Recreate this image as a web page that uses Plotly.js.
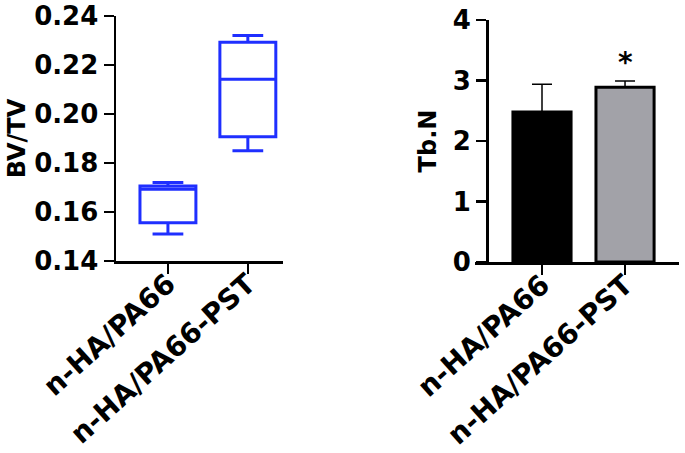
<!DOCTYPE html>
<html>
<head>
<meta charset="utf-8">
<script src="https://cdn.plot.ly/plotly-3.0.1.min.js"></script>
<style>
  html, body { margin: 0; padding: 0; background: #fff; }
  #chart { width: 685px; height: 453px; }
</style>
</head>
<body>
<div id="chart"></div>
<script>
// groups shared by both panels
var groups = ['n-HA/PA66', 'n-HA/PA66-PST']

// left panel: BV/TV box plot
var bv_lower = [0.151, 0.185]
var bv_q1 = [0.1556, 0.1907]
var bv_median = [0.1693, 0.2142]
var bv_q3 = [0.1706, 0.2293]
var bv_upper = [0.172, 0.232]

// right panel: Tb.N bars with upward SD
var tbn_mean = [2.48, 2.89]
var tbn_sd = [0.46, 0.10]
var tbn_colors = ['#000000', '#a2a2a8']

var font_family = 'DejaVu Sans, Arial, sans-serif'
var tick_font = {family: font_family, size: 26, color: '#000', weight: 'bold'}
var cat_font = {family: font_family, size: 28, color: '#000', weight: 'bold'}
var title_font = {family: font_family, size: 24, color: '#000', weight: 'bold'}

var box_trace = {
	type: 'box',
	x: groups,
	q1: bv_q1,
	median: bv_median,
	q3: bv_q3,
	lowerfence: bv_lower,
	upperfence: bv_upper,
	width: 0.7,
	whiskerwidth: 0.55,
	fillcolor: 'rgba(0,0,0,0)',
	line: {color: '#1f2fff', width: 3},
	boxpoints: false,
	hoverinfo: 'skip',
	xaxis: 'x',
	yaxis: 'y'
}

var bar_trace = {
	type: 'bar',
	x: groups,
	y: tbn_mean,
	width: 0.7,
	marker: {color: tbn_colors, line: {color: '#000', width: 3}},
	error_y: {
		type: 'data',
		symmetric: false,
		array: tbn_sd,
		arrayminus: [0, 0],
		color: '#000',
		thickness: 1.5,
		width: 10
	},
	hoverinfo: 'skip',
	xaxis: 'x2',
	yaxis: 'y2'
}

var axis_common = {
	showgrid: false,
	zeroline: false,
	showline: true,
	linecolor: '#000',
	linewidth: 2.5,
	ticks: 'outside',
	ticklen: 10,
	tickwidth: 2.5,
	tickcolor: '#000',
	tickfont: tick_font,
	fixedrange: true
}

var layout = {
	width: 685,
	height: 453,
	margin: {t: 0, b: 0, l: 0, r: 0},
	paper_bgcolor: '#fff',
	plot_bgcolor: 'rgba(0,0,0,0)',
	showlegend: false,
	xaxis: Object.assign({}, axis_common, {
		domain: [116 / 685, 283 / 685],
		type: 'category',
		range: [-0.65, 1.44],
		tickangle: -42,
		tickfont: cat_font,
		ticklabelstandoff: -17,
		anchor: 'y'
	}),
	yaxis: Object.assign({}, axis_common, {
		domain: [1 - 261 / 453, 1 - 16 / 453],
		range: [0.14, 0.24],
		dtick: 0.02,
		tickformat: '.2f',
		anchor: 'x',
		title: {text: 'BV/TV', font: title_font, standoff: 2}
	}),
	xaxis2: Object.assign({}, axis_common, {
		domain: [475 / 685, 679 / 685],
		type: 'category',
		range: [-0.807, 1.65],
		tickangle: -42,
		tickfont: cat_font,
		ticklabelstandoff: -17,
		anchor: 'y2'
	}),
	yaxis2: Object.assign({}, axis_common, {
		domain: [1 - 262 / 453, 1 - 20 / 453],
		range: [0, 4],
		dtick: 1,
		anchor: 'free',
		position: 487 / 685,
		title: {text: 'Tb.N', font: title_font, standoff: 8}
	}),
	annotations: [{
		xref: 'x2', yref: 'y2',
		x: groups[1], y: 3.3,
		text: '*',
		showarrow: false,
		font: {family: font_family, size: 28, color: '#000', weight: 'bold'}
	}]
}

Plotly.newPlot('chart', [box_trace, bar_trace], layout, {displayModeBar: false, staticPlot: true})
</script>
</body>
</html>
